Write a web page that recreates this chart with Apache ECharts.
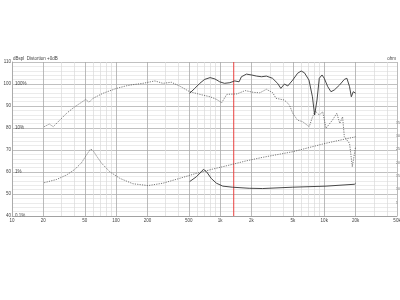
<!DOCTYPE html>
<html><head><meta charset="utf-8">
<script src="https://cdn.jsdelivr.net/npm/echarts@6/dist/echarts.min.js"></script>
<style>html,body{margin:0;padding:0;background:#fff}#c{width:400px;height:300px}</style>
</head><body><div id="c"></div>
<script>
// Woofer SPL (dotted)
const wFreq = [20.4, 22.8, 24.9, 28.8, 33.5, 40.2, 46, 51, 55, 60, 75, 101, 126, 145, 181, 236, 282, 339, 407, 509, 637, 800, 924, 1034, 1158, 1450, 1740, 2090, 2410, 2780, 3200, 3440, 4140, 4620, 4980, 5530, 6180, 7170, 7720, 8200, 8960, 9660, 10400, 12000, 13200, 14100, 15000, 15600, 17500, 18600, 20000];
const wSpl = [80.6, 81.8, 80.6, 83.6, 86.7, 89.7, 91.5, 93, 91.7, 93.5, 95.8, 98, 99.2, 99.7, 100.3, 101.4, 100.3, 100.8, 99.1, 96.5, 95.3, 94.2, 93, 91.5, 95.3, 95.5, 97, 96.2, 96, 97.6, 96, 93.5, 92.7, 90.5, 86.7, 83.6, 82.9, 80.6, 85.1, 87.7, 85.9, 87.4, 79.9, 83.6, 86.7, 82.1, 85.1, 76, 73, 62.4, 71.5];
// Tweeter SPL (solid)
const tFreq = [509, 570, 637, 710, 800, 890, 990, 1100, 1240, 1380, 1520, 1600, 1790, 2000, 2240, 2500, 2780, 3180, 3560, 3830, 4140, 4460, 4980, 5550, 6000, 6450, 7130, 7700, 8080, 8520, 8960, 9520, 10000, 10800, 11600, 12500, 14000, 15600, 16500, 17500, 18200, 19000, 20000];
const tSpl = [95.8, 98, 100.3, 102.1, 102.9, 102.3, 101, 100.3, 100.6, 101.4, 101, 103.3, 104.5, 104.1, 103.6, 103.3, 103.6, 102.6, 100.3, 98, 100, 99.1, 101.8, 104.9, 105.9, 105.1, 101.8, 94.2, 85.9, 92.7, 102.6, 104.1, 102.6, 98.8, 96.5, 97.3, 99.5, 102.1, 102.6, 98.8, 94.2, 96.5, 95.8];
// Woofer impedance (dotted, ohm)
const wzFreq = [20.4, 26.8, 33.5, 40.2, 46.6, 52, 56.8, 60.2, 64.9, 72.5, 87, 109, 145, 203, 282, 407, 590, 850, 1230, 1790, 2560, 4980, 10400, 20000];
const wzOhm = [12.5, 13.7, 15.4, 17.5, 20, 22.9, 25.1, 24.5, 22.5, 19.8, 16.6, 14.1, 12.1, 11.4, 12.3, 14.1, 16, 17.6, 19.1, 20.7, 22.0, 24.1, 27.3, 29.7];
// Tweeter impedance (solid, ohm)
const tzFreq = [509, 590, 660, 690, 740, 820, 920, 1060, 1310, 1900, 2560, 4980, 10400, 19500, 20000];
const tzOhm = [12.9, 14.7, 16.6, 17.5, 16.6, 14.1, 12.3, 11.2, 10.8, 10.4, 10.3, 10.8, 11.2, 11.9, 12.3];
// Axis labels
const freqLabels = [10, 20, 50, 100, 200, 500, 1000, 2000, 5000, 10000, 20000, 50000];
const minorFreqs = [30, 40, 60, 70, 80, 90, 300, 400, 600, 700, 800, 900, 3000, 4000, 6000, 7000, 8000, 9000, 30000, 40000];
const pctLabels = {40: '0.1%', 60: '1%', 80: '10%', 100: '100%'};
const ohmLabels = [5, 10, 15, 20, 25, 30, 35];
const markerFreq = 1350;
const markerRange = [40, 110];

const zip = (a, b) => a.map((x, i) => [x, b[i]]);
const fmtF = v => v >= 1000 ? (v / 1000) + 'k' : String(v);
const FONT = 'Liberation Sans';

const chart = echarts.init(document.getElementById('c'), null, {renderer: 'canvas'});
chart.setOption({
  animation: false,
  backgroundColor: '#fff',
  grid: {left: 12, right: 3, top: 62, bottom: 84, outerBoundsMode: 'none', containLabel: false},
  graphic: [
    {type: 'text', left: 13, top: 56, style: {text: 'dBspl  Distortion +0dB', fontSize: 4.5, fill: '#444', fontFamily: FONT}},
    {type: 'text', right: 4, top: 56, style: {text: 'ohm', fontSize: 4.5, fill: '#444', fontFamily: FONT}}
  ],
  xAxis: [
    {type: 'log', min: 10, max: 50000, position: 'bottom',
     axisLine: {show: true, lineStyle: {color: '#999', width: 0.8}},
     axisTick: {show: false, customValues: freqLabels},
     axisLabel: {customValues: freqLabels, formatter: fmtF, fontSize: 4.5, color: '#444', margin: 2, fontFamily: FONT},
     splitLine: {show: true, lineStyle: {color: '#aaa', width: 0.8}}, z: 2},
    {type: 'log', min: 10, max: 50000, position: 'top',
     axisLine: {show: false}, axisTick: {show: false, customValues: minorFreqs},
     axisLabel: {show: false},
     splitLine: {show: true, lineStyle: {color: '#dadada', width: 0.7}}, z: 1}
  ],
  yAxis: [
    {type: 'value', min: 40, max: 110, interval: 10, position: 'left',
     axisLine: {show: true, lineStyle: {color: '#999', width: 0.8}}, axisTick: {show: false},
     axisLabel: {fontSize: 4.5, color: '#444', margin: 1, fontFamily: FONT},
     splitLine: {show: true, lineStyle: {color: '#b0b0b0', width: 0.8}},
     minorTick: {show: false, splitNumber: 5},
     minorSplitLine: {show: true, lineStyle: {color: '#dddddd', width: 0.6}}},
    {type: 'value', min: 0, max: 57.75, interval: 5, position: 'right',
     axisLine: {show: false}, axisTick: {show: false}, splitLine: {show: false},
     axisLabel: {fontSize: 3.5, color: '#666', margin: -1, fontFamily: FONT,
       formatter: v => ohmLabels.includes(v) ? String(v) : ''}},
    {type: 'value', min: 40, max: 110, interval: 10, position: 'left',
     axisLine: {show: false}, axisTick: {show: false}, splitLine: {show: false},
     axisLabel: {inside: true, fontSize: 4.5, color: '#444', margin: 3, fontFamily: FONT,
       verticalAlign: 'middle',
       formatter: v => pctLabels[v] || ''}}
  ],
  series: [
    {type: 'line', name: 'marker', xAxisIndex: 0, yAxisIndex: 0, silent: true,
     data: markerRange.map(v => [markerFreq, v]), symbol: 'none', z: 4,
     lineStyle: {color: '#e8403f', width: 1}},
    {type: 'line', name: 'woofer', xAxisIndex: 0, yAxisIndex: 0, data: zip(wFreq, wSpl), symbol: 'none', z: 5,
     lineStyle: {color: '#555', width: 0.8, type: [1.2, 1.2]}},
    {type: 'line', name: 'tweeter', xAxisIndex: 0, yAxisIndex: 0, data: zip(tFreq, tSpl), symbol: 'none', z: 6,
     lineStyle: {color: '#333', width: 0.9}},
    {type: 'line', name: 'woofer Z', xAxisIndex: 0, yAxisIndex: 1, data: zip(wzFreq, wzOhm), symbol: 'none', z: 5,
     lineStyle: {color: '#555', width: 0.8, type: [1.2, 1.2]}},
    {type: 'line', name: 'tweeter Z', xAxisIndex: 0, yAxisIndex: 1, data: zip(tzFreq, tzOhm), symbol: 'none', z: 6,
     lineStyle: {color: '#333', width: 0.9}}
  ]
});
</script></body></html>
